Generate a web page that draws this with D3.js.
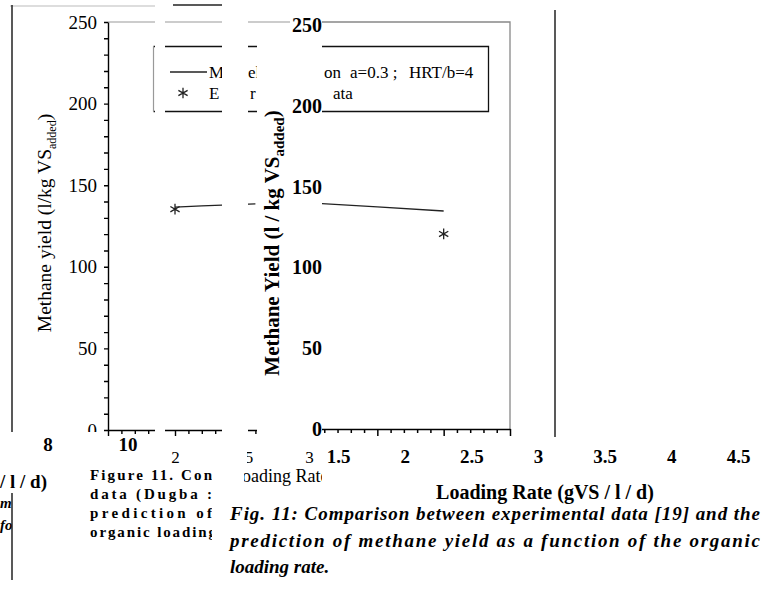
<!DOCTYPE html>
<html lang="en">
<head>
<meta charset="UTF-8">
<title>Methane yield vs loading rate</title>
<script src="https://cdn.jsdelivr.net/npm/d3@7"></script>
<style>
  body { margin: 0; background: #fff; }
  text { font-family: "Liberation Serif", "Times New Roman", serif; }
</style>
</head>
<body>
<div id="chart"></div>
<script>
// values
const yieldTicks = [0, 50, 100, 150, 200, 250];
const minorYield = d3.range(0, 251, 10);
const minorLoad = d3.range(15, 31).map(d => d / 10);
const loadTicksA = [2, 2.5, 3];

// left (regular) panel
const loadA = [2.0, 2.2, 2.4, 2.6];
const modelA = [136.6, 137.3, 138.0, 138.6];
const expLoadA = [2.0];
const expYieldA = [135.3];

// right (bold) panel
const loadB = [1.5, 2.0, 2.5];
const modelB = [139.9, 137.4, 134.9];
const expLoadB = [2.5];
const expYieldB = [120.7];

const rateLabels = [1.5, 2, 2.5, 3, 3.5, 4, 4.5];
const captionRight = [
  "Fig. 11: Comparison between experimental data [19] and the",
  "prediction of methane yield as a function of the organic",
  "loading rate."
];
const captionLeft = ["Figure 11. Con", "data (Dugba :", "prediction of", "organic loading"];

const w = 764, h = 597;
const svg = d3.select('#chart').append('svg').attr('width', w).attr('height', h);
const defs = svg.append('defs');

function clip(id, rects) {
  const cp = defs.append('clipPath').attr('id', id);
  rects.forEach(r => cp.append('rect').attr('x', r[0]).attr('y', r[1]).attr('width', r[2]).attr('height', r[3]));
}
clip('clipA', [[0, 0, 107, 432], [107, 0, 48, 441], [165, 0, 57, 441], [248, 0, 9, 441],
  [257, 15, 33, 12], [165, 441, 57, 25], [247, 441, 75, 25], [244, 466, 78, 20]]);
clip('clipL', [[0, 0, 155, 441], [165, 0, 57, 441], [248, 0, 9, 441], [322, 0, 442, 441]]);
clip('clipB', [[322, 0, 442, 445]]);
clip('clipCap', [[85, 455, 127, 100]]);

const star = d3.symbol().type(d3.symbolAsterisk).size(80);

// ---------- left panel ----------
const xA = d3.scaleLinear().domain([1.5, 3]).range([108, 309]);
const yA = d3.scaleLinear().domain([0, 250]).range([430, 22]);
const gA = svg.append('g').attr('clip-path', 'url(#clipA)');

gA.append('line')
  .attr('x1', xA(1.5)).attr('x2', xA(3)).attr('y1', yA(250)).attr('y2', yA(250))
  .attr('stroke', '#999').attr('stroke-width', 1.2);

const yAxisA = gA.append('g').attr('transform', 'translate(' + xA(1.5) + ',0)')
  .call(d3.axisLeft(yA).tickValues(minorYield).tickSize(4).tickSizeOuter(0).tickPadding(7)
    .tickFormat(d => d % 50 ? '' : d));
yAxisA.selectAll('text').style('font-size', '19px');
yAxisA.selectAll('path,line').attr('stroke-width', 1.4);

const xAxisA = gA.append('g').attr('transform', 'translate(0,' + yA(0) + ')')
  .call(d3.axisBottom(xA).tickValues(minorLoad).tickSize(4).tickSizeOuter(0).tickPadding(17)
    .tickFormat(d => loadTicksA.some(t => Math.abs(t - d) < 1e-9) ? d : ''));
xAxisA.selectAll('text').style('font-size', '17px');
xAxisA.selectAll('path,line').attr('stroke-width', 1.4);
xAxisA.selectAll('.tick').filter(d => Math.round(d * 10) % 5 === 0).select('line').attr('y2', 6);

gA.append('text').attr('x', 231).attr('y', 482).style('font-size', '18px')
  .text('Loading Rate (gVS/l/d)');

gA.append('path')
  .datum(loadA.map((x, i) => [x, modelA[i]]))
  .attr('d', d3.line().x(d => xA(d[0])).y(d => yA(d[1])))
  .attr('fill', 'none').attr('stroke', '#222').attr('stroke-width', 1.3);

gA.selectAll('.expA').data(expLoadA).enter().append('path')
  .attr('transform', (d, i) => 'translate(' + xA(d) + ',' + yA(expYieldA[i]) + ')')
  .attr('d', star).attr('fill', 'none').attr('stroke', '#222').attr('stroke-width', 1.3);

// ---------- right panel ----------
const xB = d3.scaleLinear().domain([1.5, 3]).range([311, 510]);
const yB = d3.scaleLinear().domain([0, 250]).range([429, 25]);
const gB = svg.append('g').attr('clip-path', 'url(#clipB)');

gB.append('path')
  .attr('d', 'M' + 322 + ',' + 22 + 'H' + xB(3) + 'V' + yB(0))
  .attr('fill', 'none').attr('stroke', '#888').attr('stroke-width', 1.3);

const xAxisB = gB.append('g').attr('transform', 'translate(0,' + yB(0) + ')')
  .call(d3.axisBottom(xB).tickValues(minorLoad).tickSize(4).tickSizeOuter(0).tickFormat(''));
xAxisB.selectAll('path,line').attr('stroke-width', 1.5);
xAxisB.selectAll('.tick').filter(d => Math.round(d * 10) % 5 === 0).select('line').attr('y2', 7);

gB.append('path')
  .datum(loadB.map((x, i) => [x, modelB[i]]))
  .attr('d', d3.line().x(d => xB(d[0])).y(d => yB(d[1])))
  .attr('fill', 'none').attr('stroke', '#222').attr('stroke-width', 1.3);

gB.selectAll('.expB').data(expLoadB).enter().append('path')
  .attr('transform', (d, i) => 'translate(' + xB(d) + ',' + yB(expYieldB[i]) + ')')
  .attr('d', star).attr('fill', 'none').attr('stroke', '#222').attr('stroke-width', 1.3);

const yAxisB = svg.append('g').attr('transform', 'translate(323,0)')
  .call(d3.axisLeft(yB).tickValues(yieldTicks).tickSize(0).tickPadding(1));
yAxisB.select('.domain').remove();
yAxisB.selectAll('text').style('font-size', '20px').style('font-weight', 'bold');

const xLab = d3.scaleLinear().domain([1.5, 4.5]).range([338, 738]);
const rateAxis = svg.append('g').attr('transform', 'translate(0,449)')
  .call(d3.axisBottom(xLab).tickValues(rateLabels).tickSize(0).tickPadding(0).tickFormat(d3.format('')));
rateAxis.select('.domain').remove();
rateAxis.selectAll('text').style('font-size', '19px').style('font-weight', 'bold');

// ---------- legend ----------
const gL = svg.append('g').attr('clip-path', 'url(#clipL)');
gL.append('path').attr('d', 'M153.5,46.5H488.5V111.5H153.5')
  .attr('fill', 'none').attr('stroke', '#111').attr('stroke-width', 1.3);
gL.append('line').attr('x1', 153.5).attr('x2', 153.5).attr('y1', 46.5).attr('y2', 111.5)
  .attr('stroke', '#999').attr('stroke-width', 1.2);
gL.append('line').attr('x1', 170).attr('x2', 207).attr('y1', 72).attr('y2', 72)
  .attr('stroke', '#222').attr('stroke-width', 1.3);
gL.append('path').attr('transform', 'translate(183,93)').attr('d', star)
  .attr('fill', 'none').attr('stroke', '#222').attr('stroke-width', 1.3);
const legendBits = [
  [209, 78, 'M'], [248, 78, 'el'], [324, 78, 'on'], [350, 78, 'a=0.3 ;'], [409, 78, 'HRT/b=4'],
  [209, 99, 'E'], [250, 99, 'r'], [333, 99, 'ata']
];
gL.selectAll('.lg').data(legendBits).enter().append('text')
  .attr('x', d => d[0]).attr('y', d => d[1]).style('font-size', '17px').text(d => d[2]);

// ---------- loose frame pieces ----------
const frame = svg.append('g').attr('fill', 'none');
frame.append('line').attr('x1', 10).attr('x2', 155).attr('y1', 6).attr('y2', 6).attr('stroke', '#bbb');
frame.append('line').attr('x1', 173).attr('x2', 222).attr('y1', 5).attr('y2', 5).attr('stroke', '#222').attr('stroke-width', 1.5);
frame.append('line').attr('x1', 12).attr('x2', 12).attr('y1', 5).attr('y2', 432).attr('stroke', '#222').attr('stroke-width', 1.5);
frame.append('line').attr('x1', 555).attr('x2', 555).attr('y1', 10).attr('y2', 437).attr('stroke', '#222').attr('stroke-width', 1.5);

// ---------- axis titles ----------
const tA = svg.append('text').attr('transform', 'translate(51,223) rotate(-90)')
  .attr('text-anchor', 'middle').style('font-size', '19.5px');
tA.append('tspan').text('Methane yield (l/kg VS');
tA.append('tspan').attr('dy', 5).style('font-size', '12px').text('added');
tA.append('tspan').attr('dy', -5).text(')');

const tB = svg.append('text').attr('transform', 'translate(279,243) rotate(-90)')
  .attr('text-anchor', 'middle').style('font-size', '21px').style('font-weight', 'bold');
tB.append('tspan').text('Methane Yield (l / kg VS');
tB.append('tspan').attr('dy', 5).style('font-size', '15px').text('added');
tB.append('tspan').attr('dy', -5).text(')');

svg.append('text').attr('x', 545).attr('y', 499).attr('text-anchor', 'middle')
  .style('font-size', '20px').style('font-weight', 'bold').text('Loading Rate (gVS / l / d)');

// stray fragments on the left
const bold = [[48, 451, '8', 'middle'], [128, 451, '10', 'middle'], [0, 488, '/ l / d)', 'start']];
svg.selectAll('.frag').data(bold).enter().append('text')
  .attr('x', d => d[0]).attr('y', d => d[1]).attr('text-anchor', d => d[3])
  .style('font-size', '19px').style('font-weight', 'bold').text(d => d[2]);
svg.selectAll('.edge').data([[508, 'm'], [530, 'fo']]).enter().append('text')
  .attr('x', 0).attr('y', d => d[0]).style('font-size', '15px').style('font-weight', 'bold')
  .style('font-style', 'italic').text(d => d[1]);
svg.append('rect').attr('x', 12).attr('y', 490).attr('width', 8).attr('height', 50).attr('fill', '#fff');
frame.raise();
frame.append('line').attr('x1', 12).attr('x2', 12).attr('y1', 493).attr('y2', 580).attr('stroke', '#222').attr('stroke-width', 1.5);

// ---------- captions ----------
svg.append('g').attr('clip-path', 'url(#clipCap)')
  .selectAll('.capL').data(captionLeft).enter().append('text')
  .attr('x', 90).attr('y', (d, i) => 480 + i * 19)
  .attr('textLength', (d, i) => i === 3 ? 126 : 122).attr('lengthAdjust', 'spacing')
  .style('font-size', '15px').style('font-weight', 'bold')
  .text(d => d);

svg.selectAll('.capR').data(captionRight).enter().append('text')
  .attr('x', 230).attr('y', (d, i) => 520 + i * 26.5)
  .attr('textLength', (d, i) => i < 2 ? 530 : null).attr('lengthAdjust', 'spacing')
  .style('font-size', '19px').style('font-weight', 'bold').style('font-style', 'italic')
  .text(d => d);
</script>
</body>
</html>
